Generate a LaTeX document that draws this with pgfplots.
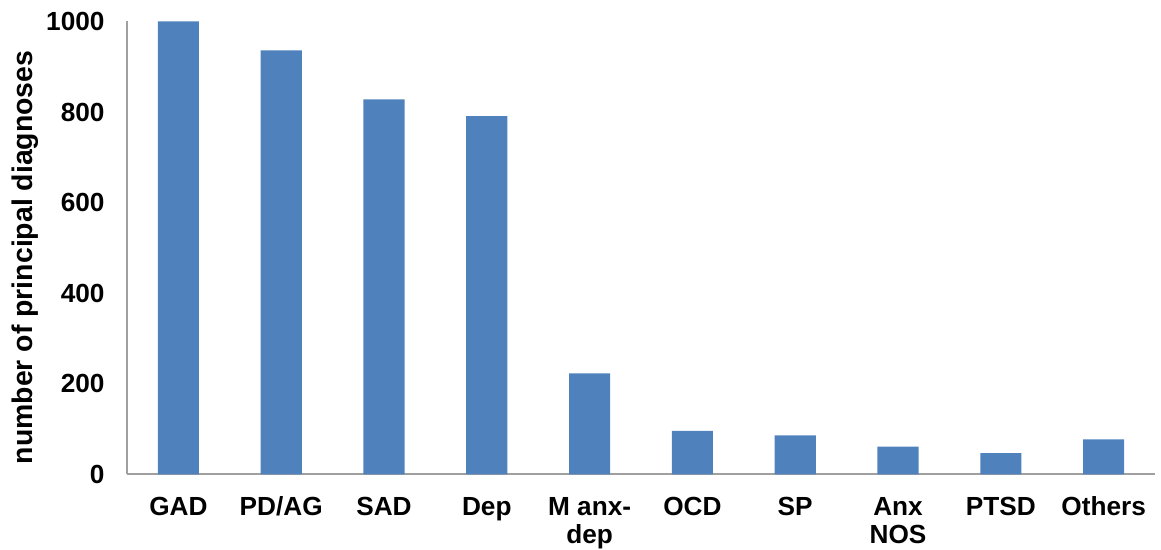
\documentclass[border=0pt]{standalone}
\usepackage{pgfplots}
\pgfplotsset{compat=1.18}
\usepackage{fontspec}
\setmainfont{Liberation Sans}
\definecolor{barblue}{HTML}{4F81BD}
\definecolor{axgray}{HTML}{A0A0A0}
\begin{document}
\begin{tikzpicture}
\begin{axis}[
  scale only axis,
  width=514pt, height=226.4pt,
  xmin=-0.5, xmax=9.5,
  ymin=0, ymax=1000,
  ytick={0,200,400,600,800,1000},
  xtick={0,...,9},
  xticklabels={{\strut GAD}, {\strut PD/AG}, {\strut SAD}, {\strut Dep}, {\strut M anx-\\dep}, {\strut OCD}, {\strut SP}, {\strut Anx\\NOS}, {\strut PTSD}, {\strut Others}},
  axis x line*=bottom, axis y line*=left,
  axis line style={draw=axgray, line width=1pt},
  major tick length=0pt,
  tick style={draw=none},
  /pgf/number format/assume math mode=true,
  /pgf/number format/1000 sep={},
  tick label style={font=\fontsize{13.1}{14.4}\selectfont\bfseries},
  xticklabel style={align=center, anchor=north, yshift=-6.8pt},
  yticklabel style={anchor=east, xshift=-7.7pt},
  ylabel={number of principal diagnoses},
  every axis y label/.style={at={(axis description cs:-0.0987,0.479)}, rotate=90, anchor=center, font=\fontsize{14.2}{16}\selectfont\bfseries},
  clip=false,
]
\addplot[ybar, bar width=0.4, fill=barblue, draw=none] coordinates {
  (0,1000) (1,936) (2,828) (3,791) (4,223) (5,96) (6,86) (7,61) (8,47) (9,77)
};
\end{axis}
\pgfresetboundingbox
\useasboundingbox (-63.5pt,-37.85pt) rectangle (517pt,237.15pt);
\end{tikzpicture}
\end{document}
